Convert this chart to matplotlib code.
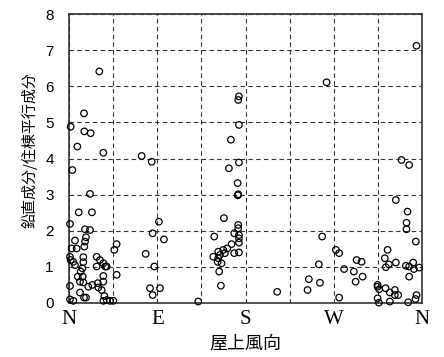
import numpy as np
import matplotlib
matplotlib.use('Agg')
import matplotlib.pyplot as plt

# wind direction on the roof (deg, N=0, clockwise) and ratio values
direction = [30.9, 15.3, 1.7, 15.6, 22.1, 8.5, 35.0, 74.1, 84.3, 3.4,
             21.4, 9.9, 23.4, 1.0, 91.7, 16.3, 21.4, 85.3, 96.8, 48.6,
             46.2, 6.1, 17.3, 16.3, 15.6, 7.8, 2.7, 1.0, 1.7, 4.4,
             6.1, 14.6, 14.6, 13.6, 11.9, 8.9, 14.0, 11.2, 14.6, 1.0,
             11.2, 15.3, 17.3, 1.0, 4.4, 19.7, 23.8, 28.2, 28.2, 31.6,
             35.0, 38.4, 37.0, 35.0, 35.0, 29.3, 29.9, 33.3, 36.0, 35.0,
             38.4, 41.8, 45.2, 48.6, 78.2, 87.0, 82.6, 85.3, 92.8,
             173.3, 172.6, 173.3, 165.1, 173.3, 163.1, 172.0, 172.6, 172.2, 158.0,
             172.6, 172.6, 168.5, 173.3, 173.3, 148.1, 165.8, 161.4, 157.3, 152.2,
             153.9, 147.1, 152.2, 159.0, 168.5, 173.3, 173.3, 151.6, 155.6, 153.2,
             154.9, 131.8, 212.3,
             354.4, 262.7, 339.1, 346.9, 333.3, 345.2, 344.2, 344.2, 353.7, 258.2,
             272.2, 275.5, 324.9, 322.1, 293.3, 298.4, 254.8, 280.6, 290.5, 326.2,
             333.3, 323.1, 343.5, 346.9, 351.0, 351.7, 357.1, 346.9, 299.4, 292.3,
             244.6, 255.9, 243.3, 275.5, 314.7, 314.7, 316.3, 322.8, 327.2, 332.3,
             332.3, 335.7, 314.7, 316.0, 327.2, 345.9, 354.4, 353.4]
ratio = [6.41, 5.25, 4.88, 4.75, 4.70, 4.33, 4.16, 4.07, 3.91, 3.68,
         3.02, 2.51, 2.51, 2.19, 2.25, 2.04, 2.02, 1.93, 1.76, 1.63,
         1.47, 1.73, 1.82, 1.70, 1.56, 1.51, 1.51, 1.28, 1.19, 1.14,
         1.05, 1.27, 1.13, 0.96, 0.87, 0.73, 0.73, 0.59, 0.57, 0.47,
         0.29, 0.15, 0.15, 0.10, 0.06, 0.45, 0.50, 1.28, 1.01, 1.19,
         1.10, 1.01, 1.01, 0.75, 0.59, 0.55, 0.43, 0.36, 0.19, 0.06,
         0.08, 0.06, 0.06, 0.78, 1.36, 1.01, 0.41, 0.22, 0.41,
         5.72, 5.62, 4.93, 4.52, 3.89, 3.73, 3.32, 3.01, 2.98, 2.35,
         2.16, 2.07, 1.93, 1.88, 1.79, 1.84, 1.63, 1.51, 1.47, 1.42,
         1.33, 1.28, 1.24, 1.38, 1.38, 1.40, 1.67, 1.14, 1.10, 0.87,
         0.48, 0.04, 0.31,
         7.12, 6.11, 3.96, 3.82, 2.85, 2.53, 2.22, 2.04, 1.70, 1.84,
         1.47, 1.38, 1.47, 1.24, 1.19, 1.14, 1.07, 0.94, 0.87, 1.07,
         1.12, 0.99, 1.03, 1.01, 1.12, 0.94, 0.98, 0.73, 0.73, 0.59,
         0.66, 0.56, 0.36, 0.15, 0.50, 0.45, 0.38, 0.41, 0.29, 0.36,
         0.22, 0.22, 0.13, 0.01, 0.04, 0.02, 0.22, 0.11]

xticks = [0, 90, 180, 270, 360]
xticklabels = ['N', 'E', 'S', 'W', 'N']

fig = plt.figure(figsize=(4.44, 3.57), dpi=100)
ax = fig.add_axes([69/444, 1-303/357, (422-69)/444, (303-14)/357])

ax.scatter(direction, ratio, s=22, facecolors='none', edgecolors='black',
           linewidths=0.9, clip_on=False, zorder=3)

ax.set_xlim(0, 360)
ax.set_ylim(0, 8)
ax.set_xticks(np.arange(0, 361, 45), minor=True)
ax.set_xticks(xticks)
ax.set_xticklabels(xticklabels, family='Liberation Serif', fontsize=15)
ax.set_yticks(range(0, 9))
ax.set_yticklabels([str(v) for v in range(0, 9)], family='Liberation Sans', fontsize=11)
ax.tick_params(which='both', length=0)
ax.tick_params(axis='y', pad=11)
ax.tick_params(axis='x', pad=5)

ax.grid(True, which='both', linestyle=(0, (4, 3)), color='#333333', linewidth=0.8)
for s in ax.spines.values():
    s.set_color('#333333')
    s.set_linewidth(1.2)

ax.set_xlabel('屋上風向', family='Noto Sans CJK JP', fontsize=13, labelpad=4)
ax.set_ylabel('鉛直成分/住棟平行成分', family='Noto Sans CJK JP', fontsize=10.8)
ax.yaxis.set_label_coords(-0.088, 0.53)

plt.savefig('out.png', dpi=100)
